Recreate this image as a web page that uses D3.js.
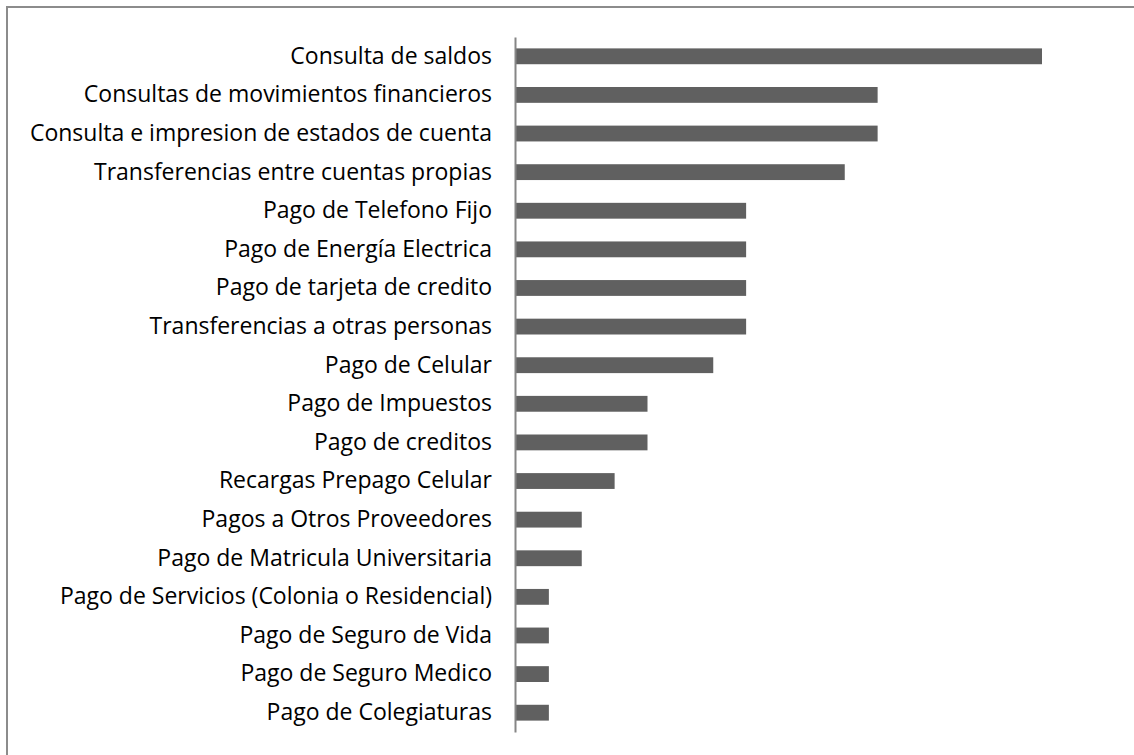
<!DOCTYPE html>
<html>
<head>
<meta charset="utf-8">
<script src="https://cdn.jsdelivr.net/npm/d3@7"></script>
<style>
  body { margin: 0; background: #fff; }
  svg text { font-family: "Open Sans", sans-serif; }
</style>
</head>
<body>
<div id="chart"></div>
<script>
// categories, top to bottom
const categories = [
    "Consulta de saldos",
    "Consultas de movimientos financieros",
    "Consulta e impresion de estados de cuenta",
    "Transferencias entre cuentas propias",
    "Pago de Telefono Fijo",
    "Pago de Energía Electrica",
    "Pago de tarjeta de credito",
    "Transferencias a otras personas",
    "Pago de Celular",
    "Pago de Impuestos",
    "Pago de creditos",
    "Recargas Prepago Celular",
    "Pagos a Otros Proveedores",
    "Pago de Matricula Universitaria",
    "Pago de Servicios (Colonia o Residencial)",
    "Pago de Seguro de Vida",
    "Pago de Seguro Medico",
    "Pago de Colegiaturas"
];
const values = [16, 11, 11, 10, 7, 7, 7, 7, 6, 4, 4, 3, 2, 2, 1, 1, 1, 1];

const width = 1134, height = 755;
const margin = {top: 37, right: 92, bottom: 23, left: 516};

let svg = d3.select("#chart").append("svg")
    .attr("width", width)
    .attr("height", height);

// outer frame (right and bottom edges fall outside the picture)
svg.append("rect")
    .attr("x", 7).attr("y", 7)
    .attr("width", width).attr("height", height)
    .attr("fill", "none")
    .attr("stroke", "#8c8c8c")
    .attr("stroke-width", 2);

let data = categories.map((c, i) => ({name: c, value: values[i]}));

let x = d3.scaleLinear()
    .domain([0, 16])
    .range([margin.left, margin.left + 526]);

let y = d3.scaleBand()
    .domain(categories)
    .range([margin.top, height - margin.bottom])
    .paddingInner(0.59)
    .paddingOuter(0.295);

// bars
svg.append("g")
    .selectAll("rect")
    .data(data)
    .enter()
    .append("rect")
    .attr("x", x(0))
    .attr("y", d => y(d.name))
    .attr("width", d => x(d.value) - x(0))
    .attr("height", y.bandwidth())
    .attr("fill", "#606060");

// category axis
let yAxis = d3.axisLeft(y).tickSize(0).tickPadding(23);
let gy = svg.append("g")
    .attr("transform", `translate(${margin.left - 1},0)`)
    .call(yAxis);
gy.select(".domain").attr("stroke", "#868686").attr("stroke-width", 2);
gy.selectAll("text")
    .attr("font-size", 23)
    .attr("fill", "#000")
    .style("font-family", "'Open Sans', sans-serif");
</script>
</body>
</html>
